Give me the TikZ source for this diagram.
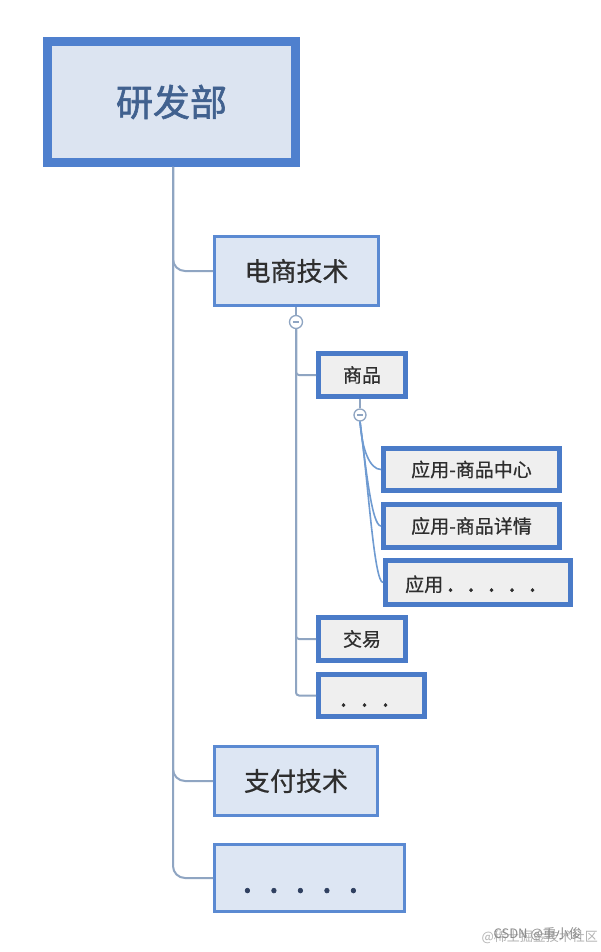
\documentclass[tikz,border=0pt]{standalone}
\usepackage{fontspec}
\setmainfont{Noto Sans CJK SC}
\newfontfamily\heavycjk[FakeBold=1.6]{Noto Sans CJK SC}
\newfontfamily\midcjk[FakeBold=0.6]{Noto Sans CJK SC}
\newfontfamily\dotfont[FakeBold=2]{Noto Sans CJK SC}
\definecolor{rootborder}{HTML}{4F80CE}
\definecolor{rootfill}{HTML}{DCE4F1}
\definecolor{roottext}{HTML}{41618F}
\definecolor{lvtwoborder}{HTML}{5B8AD2}
\definecolor{lvtwofill}{HTML}{DDE6F3}
\definecolor{lvthreeborder}{HTML}{4A7BC8}
\definecolor{lvthreefill}{HTML}{EFEFEF}
\definecolor{conncol}{HTML}{8FA5C2}
\definecolor{curvecol}{HTML}{6F9BD1}
\definecolor{textdark}{HTML}{2E2E2E}
\definecolor{dotcol}{HTML}{2F4060}
\newcommand{\myrowdots}[3]{\foreach \k in {1,...,#1}{\makebox[#2][l]{\dotfont\fontsize{#3}{#3}\selectfont.}}}
\tikzset{
  rootbox/.style={draw=rootborder, fill=rootfill, line width=9pt, inner sep=0pt,
    text=roottext, font=\heavycjk\fontsize{37}{40}\selectfont},
  lvtwo/.style={draw=lvtwoborder, fill=lvtwofill, line width=3pt, inner sep=0pt,
    text=textdark, font=\midcjk\fontsize{26}{30}\selectfont},
  lvthree/.style={draw=lvthreeborder, fill=lvthreefill, line width=5pt, inner sep=0pt,
    text=textdark, font=\midcjk\fontsize{19}{22}\selectfont},
  conn/.style={draw=conncol, line width=2pt},
  curveconn/.style={draw=curvecol, line width=1.6pt},
  toggle/.style={circle, draw=conncol, fill=white, line width=1.3pt, minimum size=13pt, inner sep=0pt},
}
\begin{document}
\begin{tikzpicture}[x=1pt,y=-1pt]
\useasboundingbox[fill=white] (0,0) rectangle (600,952);

% boxes
\node[rootbox, minimum width=248pt, minimum height=121pt] (root) at (171.5,102) {研发部};
\node[lvtwo, minimum width=164pt, minimum height=69pt] (ds) at (296.5,271) {电商技术};
\node[lvtwo, minimum width=163pt, minimum height=69pt] (zf) at (296,781) {支付技术};
\node[lvtwo, minimum width=190pt, minimum height=67pt] (more) at (309.5,878) {};
\node[anchor=base west, text=dotcol, inner sep=0pt] (moredots) at (242.5,892.5) {\myrowdots{5}{26.5pt}{34}};

\node[lvthree, minimum width=87pt, minimum height=43pt] (sp) at (362,375) {商品};
\node[lvthree, minimum width=176pt, minimum height=42pt] (spa) at (471.5,469.5) {应用-商品中心};
\node[lvthree, minimum width=176pt, minimum height=43pt] (spb) at (471.5,526) {应用-商品详情};
\node[lvthree, minimum width=185pt, minimum height=44pt] (spc) at (478,582.5) {};
\node[anchor=base west, text=textdark, font=\midcjk\fontsize{19}{22}\selectfont, inner sep=0pt] (spctext) at (405,591.5) {应用\kern4pt\myrowdots{5}{20.5pt}{24}};
\node[lvthree, minimum width=87pt, minimum height=43pt] (jy) at (362,639) {交易};
\node[lvthree, minimum width=106pt, minimum height=42pt] (etc) at (371.5,695.5) {};
\node[anchor=base west, text=textdark, inner sep=0pt] (etctext) at (340,706.5) {\myrowdots{3}{21pt}{24}};

% main trunk
\coordinate (t0) at (173,167);
\draw[conn, rounded corners=12pt] (t0) |- (ds.west);
\draw[conn, rounded corners=12pt] (t0) |- (zf.west);
\draw[conn, rounded corners=12pt] (t0) |- (more.west);

% toggle under 电商技术
\node[toggle] (tg1) at (296,322) {};
\draw[conncol, line width=1.3pt] ([xshift=-3pt]tg1.center) -- ([xshift=3pt]tg1.center);
\draw[conn] (ds.south -| tg1) -- (tg1.north);
\coordinate (t1) at (tg1.south);
\draw[conn, rounded corners=3pt] (t1) |- (sp.west);
\draw[conn, rounded corners=3pt] (t1) |- (jy.west);
\draw[conn, rounded corners=3pt] (t1) |- (etc.west);

% toggle under 商品
\node[toggle, minimum size=12pt] (tg2) at (360,415) {};
\draw[conncol, line width=1.3pt] ([xshift=-3pt]tg2.center) -- ([xshift=3pt]tg2.center);
\draw[conn] (sp.south -| tg2) -- (tg2.north);
\draw[curveconn] (tg2.south) .. controls (362,450) and (370,469.5) .. (spa.west);
\draw[curveconn] (tg2.south) .. controls (366,470) and (372,526) .. (spb.west);
\draw[curveconn] (tg2.south) .. controls (368,480) and (374,582.5) .. (spc.west);

% watermark
\node[text=black!30, font=\fontsize{13}{15}\selectfont, anchor=east, inner sep=0pt] (wm2) at (598,937) {@稀土掘金技术社区};
\node[text=black!45, font=\fontsize{13}{15}\selectfont, anchor=east, inner sep=0pt] (wm1) at (582,934) {CSDN @重小俊};
\end{tikzpicture}
\end{document}
